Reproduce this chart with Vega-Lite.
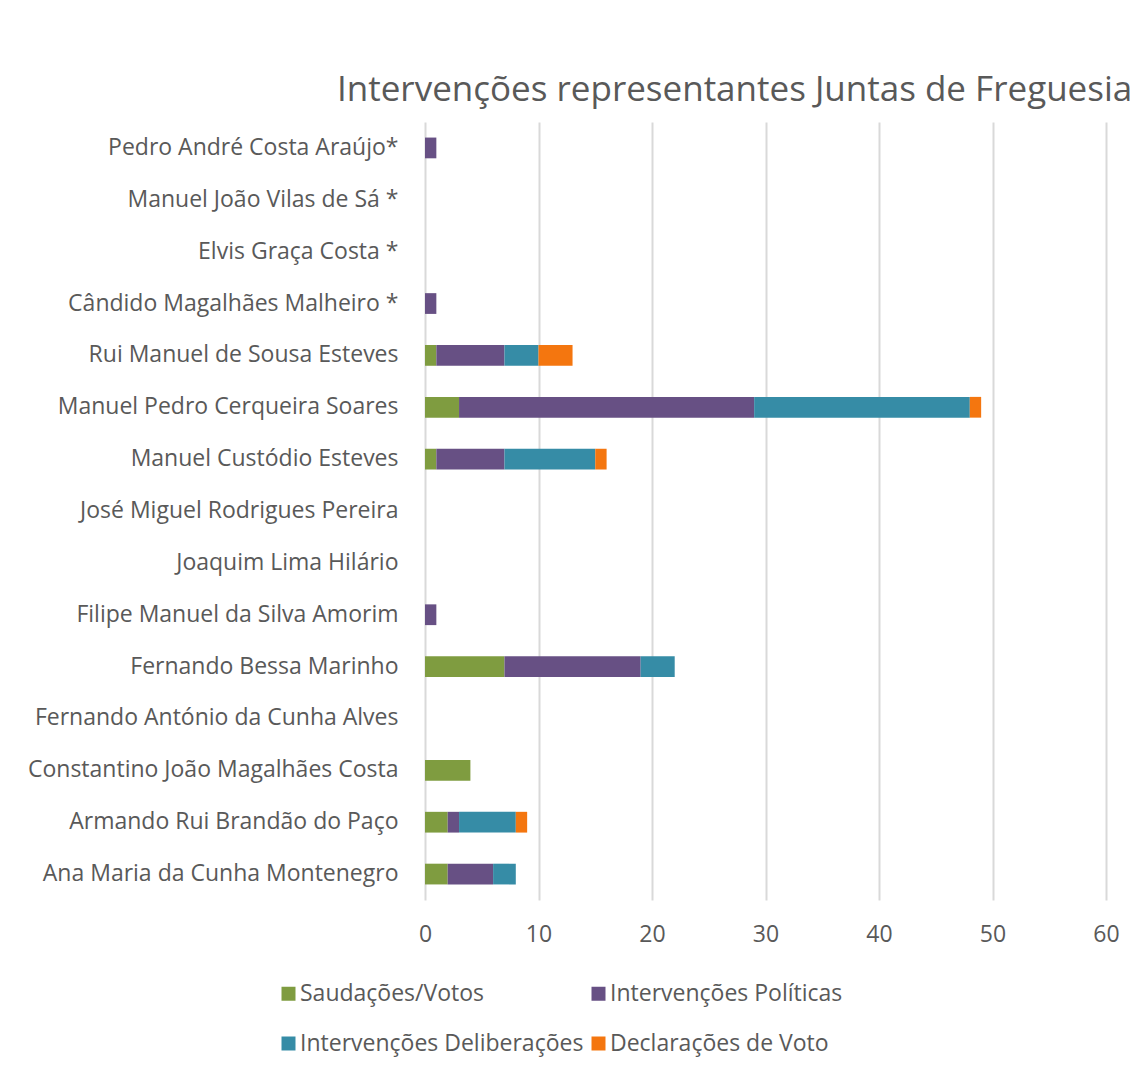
{
  "$schema": "https://vega.github.io/schema/vega-lite/v6.json",
  "autosize": "none",
  "width": 681,
  "height": 778,
  "padding": {"left": 425, "top": 122, "right": 31, "bottom": 173},
  "background": "white",
  "title": {
    "text": "Intervenções representantes Juntas de Freguesia",
    "anchor": "start",
    "frame": "group",
    "dx": -88,
    "dy": 33,
    "offset": 19,
    "baseline": "alphabetic",
    "font": "Open Sans",
    "fontSize": 35,
    "fontWeight": "normal",
    "color": "#595959"
  },
  "datasets": {
    "rows": [
      {"nome": "Pedro André Costa Araújo*", "cat": "Saudações/Votos", "k": 1, "v": 0},
      {"nome": "Pedro André Costa Araújo*", "cat": "Intervenções Políticas", "k": 2, "v": 1},
      {"nome": "Pedro André Costa Araújo*", "cat": "Intervenções Deliberações", "k": 3, "v": 0},
      {"nome": "Pedro André Costa Araújo*", "cat": "Declarações de Voto", "k": 4, "v": 0},
      {"nome": "Manuel João Vilas de Sá *", "cat": "Saudações/Votos", "k": 1, "v": 0},
      {"nome": "Manuel João Vilas de Sá *", "cat": "Intervenções Políticas", "k": 2, "v": 0},
      {"nome": "Manuel João Vilas de Sá *", "cat": "Intervenções Deliberações", "k": 3, "v": 0},
      {"nome": "Manuel João Vilas de Sá *", "cat": "Declarações de Voto", "k": 4, "v": 0},
      {"nome": "Elvis Graça Costa *", "cat": "Saudações/Votos", "k": 1, "v": 0},
      {"nome": "Elvis Graça Costa *", "cat": "Intervenções Políticas", "k": 2, "v": 0},
      {"nome": "Elvis Graça Costa *", "cat": "Intervenções Deliberações", "k": 3, "v": 0},
      {"nome": "Elvis Graça Costa *", "cat": "Declarações de Voto", "k": 4, "v": 0},
      {"nome": "Cândido Magalhães Malheiro *", "cat": "Saudações/Votos", "k": 1, "v": 0},
      {"nome": "Cândido Magalhães Malheiro *", "cat": "Intervenções Políticas", "k": 2, "v": 1},
      {"nome": "Cândido Magalhães Malheiro *", "cat": "Intervenções Deliberações", "k": 3, "v": 0},
      {"nome": "Cândido Magalhães Malheiro *", "cat": "Declarações de Voto", "k": 4, "v": 0},
      {"nome": "Rui Manuel de Sousa Esteves", "cat": "Saudações/Votos", "k": 1, "v": 1},
      {"nome": "Rui Manuel de Sousa Esteves", "cat": "Intervenções Políticas", "k": 2, "v": 6},
      {"nome": "Rui Manuel de Sousa Esteves", "cat": "Intervenções Deliberações", "k": 3, "v": 3},
      {"nome": "Rui Manuel de Sousa Esteves", "cat": "Declarações de Voto", "k": 4, "v": 3},
      {"nome": "Manuel Pedro Cerqueira Soares", "cat": "Saudações/Votos", "k": 1, "v": 3},
      {"nome": "Manuel Pedro Cerqueira Soares", "cat": "Intervenções Políticas", "k": 2, "v": 26},
      {"nome": "Manuel Pedro Cerqueira Soares", "cat": "Intervenções Deliberações", "k": 3, "v": 19},
      {"nome": "Manuel Pedro Cerqueira Soares", "cat": "Declarações de Voto", "k": 4, "v": 1},
      {"nome": "Manuel Custódio Esteves", "cat": "Saudações/Votos", "k": 1, "v": 1},
      {"nome": "Manuel Custódio Esteves", "cat": "Intervenções Políticas", "k": 2, "v": 6},
      {"nome": "Manuel Custódio Esteves", "cat": "Intervenções Deliberações", "k": 3, "v": 8},
      {"nome": "Manuel Custódio Esteves", "cat": "Declarações de Voto", "k": 4, "v": 1},
      {"nome": "José Miguel Rodrigues Pereira", "cat": "Saudações/Votos", "k": 1, "v": 0},
      {"nome": "José Miguel Rodrigues Pereira", "cat": "Intervenções Políticas", "k": 2, "v": 0},
      {"nome": "José Miguel Rodrigues Pereira", "cat": "Intervenções Deliberações", "k": 3, "v": 0},
      {"nome": "José Miguel Rodrigues Pereira", "cat": "Declarações de Voto", "k": 4, "v": 0},
      {"nome": "Joaquim Lima Hilário", "cat": "Saudações/Votos", "k": 1, "v": 0},
      {"nome": "Joaquim Lima Hilário", "cat": "Intervenções Políticas", "k": 2, "v": 0},
      {"nome": "Joaquim Lima Hilário", "cat": "Intervenções Deliberações", "k": 3, "v": 0},
      {"nome": "Joaquim Lima Hilário", "cat": "Declarações de Voto", "k": 4, "v": 0},
      {"nome": "Filipe Manuel da Silva Amorim", "cat": "Saudações/Votos", "k": 1, "v": 0},
      {"nome": "Filipe Manuel da Silva Amorim", "cat": "Intervenções Políticas", "k": 2, "v": 1},
      {"nome": "Filipe Manuel da Silva Amorim", "cat": "Intervenções Deliberações", "k": 3, "v": 0},
      {"nome": "Filipe Manuel da Silva Amorim", "cat": "Declarações de Voto", "k": 4, "v": 0},
      {"nome": "Fernando Bessa Marinho", "cat": "Saudações/Votos", "k": 1, "v": 7},
      {"nome": "Fernando Bessa Marinho", "cat": "Intervenções Políticas", "k": 2, "v": 12},
      {"nome": "Fernando Bessa Marinho", "cat": "Intervenções Deliberações", "k": 3, "v": 3},
      {"nome": "Fernando Bessa Marinho", "cat": "Declarações de Voto", "k": 4, "v": 0},
      {"nome": "Fernando António da Cunha Alves", "cat": "Saudações/Votos", "k": 1, "v": 0},
      {"nome": "Fernando António da Cunha Alves", "cat": "Intervenções Políticas", "k": 2, "v": 0},
      {"nome": "Fernando António da Cunha Alves", "cat": "Intervenções Deliberações", "k": 3, "v": 0},
      {"nome": "Fernando António da Cunha Alves", "cat": "Declarações de Voto", "k": 4, "v": 0},
      {"nome": "Constantino João Magalhães Costa", "cat": "Saudações/Votos", "k": 1, "v": 4},
      {"nome": "Constantino João Magalhães Costa", "cat": "Intervenções Políticas", "k": 2, "v": 0},
      {"nome": "Constantino João Magalhães Costa", "cat": "Intervenções Deliberações", "k": 3, "v": 0},
      {"nome": "Constantino João Magalhães Costa", "cat": "Declarações de Voto", "k": 4, "v": 0},
      {"nome": "Armando Rui Brandão do Paço", "cat": "Saudações/Votos", "k": 1, "v": 2},
      {"nome": "Armando Rui Brandão do Paço", "cat": "Intervenções Políticas", "k": 2, "v": 1},
      {"nome": "Armando Rui Brandão do Paço", "cat": "Intervenções Deliberações", "k": 3, "v": 5},
      {"nome": "Armando Rui Brandão do Paço", "cat": "Declarações de Voto", "k": 4, "v": 1},
      {"nome": "Ana Maria da Cunha Montenegro", "cat": "Saudações/Votos", "k": 1, "v": 2},
      {"nome": "Ana Maria da Cunha Montenegro", "cat": "Intervenções Políticas", "k": 2, "v": 4},
      {"nome": "Ana Maria da Cunha Montenegro", "cat": "Intervenções Deliberações", "k": 3, "v": 2},
      {"nome": "Ana Maria da Cunha Montenegro", "cat": "Declarações de Voto", "k": 4, "v": 0}
    ]
  },
  "data": {"name": "rows"},
  "mark": {"type": "bar"},
  "encoding": {
    "y": {
      "field": "nome",
      "type": "nominal",
      "sort": null,
      "title": null,
      "scale": {"paddingInner": 0.6, "paddingOuter": 0.3},
      "axis": {
        "ticks": false,
        "domain": false,
        "grid": false,
        "labelPadding": 27,
        "labelFont": "Open Sans",
        "labelFontSize": 23,
        "labelColor": "#595959",
        "labelLimit": 500
      }
    },
    "x": {
      "field": "v",
      "type": "quantitative",
      "stack": "zero",
      "title": null,
      "scale": {"domain": [0, 60], "nice": false},
      "axis": {
        "values": [0, 10, 20, 30, 40, 50, 60],
        "ticks": false,
        "domain": false,
        "grid": true,
        "gridColor": "#d9d9d9",
        "gridWidth": 2,
        "labelFlush": false,
        "labelPadding": 23,
        "labelFont": "Open Sans",
        "labelFontSize": 23,
        "labelColor": "#595959"
      }
    },
    "color": {
      "field": "cat",
      "type": "nominal",
      "title": null,
      "scale": {
        "domain": ["Saudações/Votos", "Intervenções Políticas", "Intervenções Deliberações", "Declarações de Voto"],
        "range": ["#7F9C40", "#675084", "#368CA6", "#F4760F"]
      },
      "legend": {
        "orient": "none",
        "legendX": -148,
        "legendY": 860,
        "direction": "horizontal",
        "columns": 2,
        "columnPadding": 3,
        "rowPadding": 26,
        "symbolType": "square",
        "symbolSize": 196,
        "symbolStrokeWidth": 0,
        "symbolOpacity": 1,
        "labelOffset": 0,
        "labelFont": "Open Sans",
        "labelFontSize": 23,
        "labelColor": "#595959",
        "labelLimit": 500
      }
    },
    "order": {"field": "k", "type": "quantitative"}
  },
  "config": {"view": {"stroke": null}}
}
